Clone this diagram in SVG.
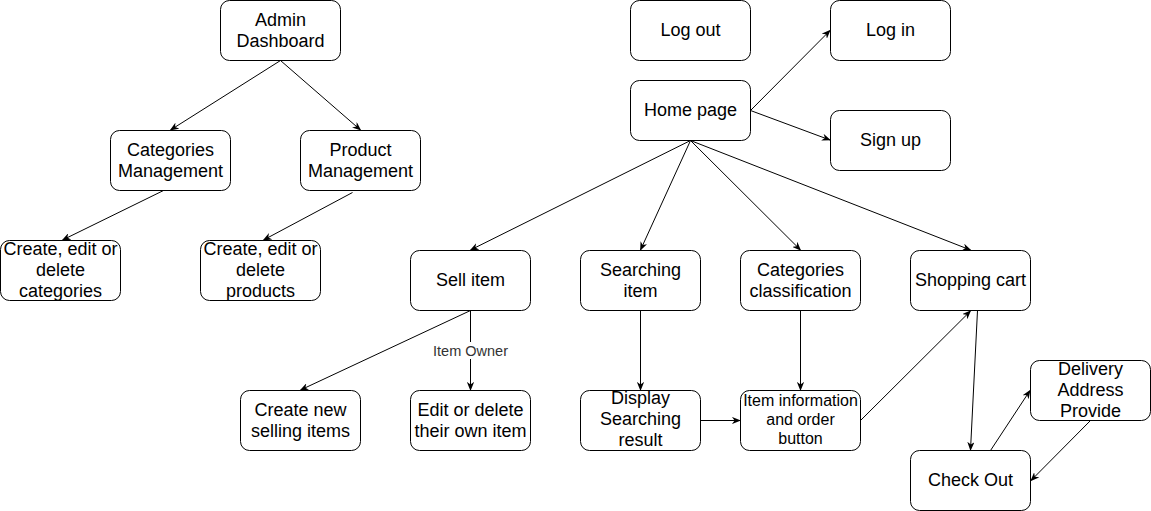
<svg xmlns="http://www.w3.org/2000/svg" width="1151" height="511" viewBox="0 0 1151 511">
<style>
.n rect{fill:#fff;stroke:#000;stroke-width:1}
.n text{font-family:"Liberation Sans",Arial,sans-serif;font-size:18px;fill:#000;text-anchor:middle}
.n text.s{font-size:16px}
.e line{stroke:#000;stroke-width:1;marker-end:url(#a)}
.lbl{font-family:"Liberation Sans",Arial,sans-serif;font-size:14.5px;fill:#333;text-anchor:middle}
</style>
<defs>
<marker id="a" viewBox="0 0 10 8" refX="9" refY="4" markerWidth="9" markerHeight="7.2" markerUnits="userSpaceOnUse" orient="auto">
<path d="M0,0 L10,4 L0,8 L3,4 Z" fill="#000"/>
</marker>
</defs>
<rect width="1151" height="511" fill="#fff"/>
<g class="e" id="connectors">
<line x1="280.5" y1="60.5" x2="170.5" y2="130"/>
<line x1="280.5" y1="60.5" x2="360.5" y2="130"/>
<line x1="163.5" y1="190.5" x2="62.5" y2="240"/>
<line x1="352.5" y1="192.5" x2="263.5" y2="240"/>
<line x1="750.5" y1="110.5" x2="830" y2="30.5"/>
<line x1="750.5" y1="110.5" x2="830" y2="140"/>
<line x1="690.5" y1="140.5" x2="470.5" y2="250"/>
<line x1="690.5" y1="140.5" x2="640.5" y2="250"/>
<line x1="690.5" y1="140.5" x2="800.5" y2="250"/>
<line x1="690.5" y1="140.5" x2="970.5" y2="250"/>
<line x1="470.5" y1="310.5" x2="300.5" y2="390"/>
<line x1="470.5" y1="310.5" x2="470.5" y2="390"/>
<line x1="640.5" y1="310.5" x2="640.5" y2="390"/>
<line x1="800.5" y1="310.5" x2="800.5" y2="390"/>
<line x1="700.5" y1="420.5" x2="740" y2="420.5"/>
<line x1="860.5" y1="420.5" x2="970.5" y2="311"/>
<line x1="977.5" y1="310.5" x2="970.5" y2="450"/>
<line x1="990.5" y1="450.5" x2="1030" y2="390.5"/>
<line x1="1090.5" y1="420.5" x2="1031" y2="480.5"/>
<rect x="430" y="342" width="82" height="17" fill="#fff"/>
<text class="lbl" x="470.5" y="356">Item Owner</text>
</g>
<g class="n" id="admin"><rect x="220.5" y="0.5" width="120" height="60" rx="9"/><text x="280.5" y="26">Admin</text><text x="280.5" y="47">Dashboard</text></g>
<g class="n" id="catmgmt"><rect x="110.5" y="130.5" width="120" height="60" rx="9"/><text x="170.5" y="156">Categories</text><text x="170.5" y="177">Management</text></g>
<g class="n" id="prodmgmt"><rect x="300.5" y="130.5" width="120" height="60" rx="9"/><text x="360.5" y="156">Product</text><text x="360.5" y="177">Management</text></g>
<g class="n" id="cedcat"><rect x="0.5" y="240.5" width="120" height="60" rx="9"/><text x="60.5" y="255">Create, edit or</text><text x="60.5" y="276">delete</text><text x="60.5" y="297">categories</text></g>
<g class="n" id="cedprod"><rect x="200.5" y="240.5" width="120" height="60" rx="9"/><text x="260.5" y="255">Create, edit or</text><text x="260.5" y="276">delete</text><text x="260.5" y="297">products</text></g>
<g class="n" id="logout"><rect x="630.5" y="0.5" width="120" height="60" rx="9"/><text x="690.5" y="36">Log out</text></g>
<g class="n" id="login"><rect x="830.5" y="0.5" width="120" height="60" rx="9"/><text x="890.5" y="36">Log in</text></g>
<g class="n" id="home"><rect x="630.5" y="80.5" width="120" height="60" rx="9"/><text x="690.5" y="116">Home page</text></g>
<g class="n" id="signup"><rect x="830.5" y="110.5" width="120" height="60" rx="9"/><text x="890.5" y="146">Sign up</text></g>
<g class="n" id="sell"><rect x="410.5" y="250.5" width="120" height="60" rx="9"/><text x="470.5" y="286">Sell item</text></g>
<g class="n" id="search"><rect x="580.5" y="250.5" width="120" height="60" rx="9"/><text x="640.5" y="276">Searching</text><text x="640.5" y="297">item</text></g>
<g class="n" id="catclass"><rect x="740.5" y="250.5" width="120" height="60" rx="9"/><text x="800.5" y="276">Categories</text><text x="800.5" y="297">classification</text></g>
<g class="n" id="cart"><rect x="910.5" y="250.5" width="120" height="60" rx="9"/><text x="970.5" y="286">Shopping cart</text></g>
<g class="n" id="createnew"><rect x="240.5" y="390.5" width="120" height="60" rx="9"/><text x="300.5" y="416">Create new</text><text x="300.5" y="437">selling items</text></g>
<g class="n" id="editown"><rect x="410.5" y="390.5" width="120" height="60" rx="9"/><text x="470.5" y="416">Edit or delete</text><text x="470.5" y="437">their own item</text></g>
<g class="n" id="display"><rect x="580.5" y="390.5" width="120" height="60" rx="9"/><text x="640.5" y="404">Display</text><text x="640.5" y="425">Searching</text><text x="640.5" y="446">result</text></g>
<g class="n" id="iteminfo"><rect x="740.5" y="390.5" width="120" height="60" rx="9"/><text class="s" x="800.5" y="406">Item information</text><text class="s" x="800.5" y="425">and order</text><text class="s" x="800.5" y="444">button</text></g>
<g class="n" id="delivery"><rect x="1030.5" y="360.5" width="120" height="60" rx="9"/><text x="1090.5" y="375">Delivery</text><text x="1090.5" y="396">Address</text><text x="1090.5" y="417">Provide</text></g>
<g class="n" id="checkout"><rect x="910.5" y="450.5" width="120" height="60" rx="9"/><text x="970.5" y="486">Check Out</text></g>
</svg>
